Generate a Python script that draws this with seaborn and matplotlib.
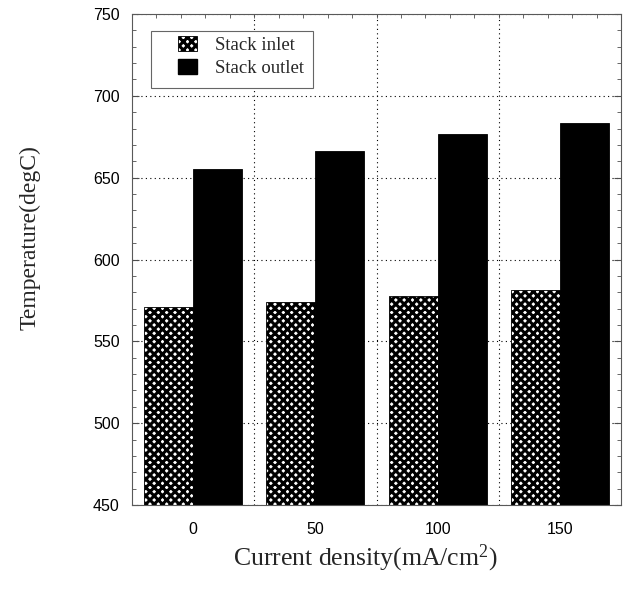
import numpy as np
import pandas as pd
import matplotlib
matplotlib.use("Agg")
import matplotlib.pyplot as plt
from matplotlib.patches import Patch, Rectangle
from matplotlib.ticker import MultipleLocator
import seaborn as sns

densities = ["0", "50", "100", "150"]
inlet_temp = [571, 574, 578, 581.5]
outlet_temp = [655.5, 666.5, 676.5, 683.5]
series = ["Stack inlet", "Stack outlet"]

df = pd.DataFrame({
    "density": densities * 2,
    "temp": inlet_temp + outlet_temp,
    "location": [series[0]] * 4 + [series[1]] * 4,
})

sns.set_style("ticks")
plt.rcParams["hatch.linewidth"] = 2.2
plt.rcParams["hatch.color"] = "black"
plt.rcParams["mathtext.fontset"] = "custom"
plt.rcParams["mathtext.rm"] = "Liberation Serif"
plt.rcParams["mathtext.it"] = "Liberation Serif:italic"

W, H = 627, 591
fig, ax = plt.subplots(figsize=(6.27, 5.91), dpi=100)
L, R, T, B = 132, 621, 14, 505
fig.subplots_adjust(left=L / W, right=R / W, top=1 - T / H, bottom=1 - B / H)

def ax_x(px):
    return (px - L) / (R - L)

def ax_y(py):
    return (B - py) / (B - T)

sns.barplot(data=df, x="density", y="temp", hue="location", order=densities,
            hue_order=series, palette=["white", "black"], edgecolor="black",
            linewidth=0.6, width=0.8, ax=ax, legend=False, zorder=2)

for bar in ax.containers[0]:
    bar.set_hatch("xxxx")

ax.set_ylim(450, 750)
ax.set_xlim(-0.5, 3.5)
ax.yaxis.set_major_locator(MultipleLocator(50))
ax.yaxis.set_minor_locator(MultipleLocator(10))
ax.xaxis.set_minor_locator(MultipleLocator(0.2, offset=-0.5))

ax.yaxis.grid(True, which="major", color="black", linestyle=(0, (1, 3)), linewidth=0.8)
for b in [0.5, 1.5, 2.5]:
    ax.axvline(b, color="black", linestyle=(0, (1, 3)), linewidth=0.8, zorder=0.5)
ax.set_axisbelow(True)

ax.tick_params(axis="both", which="both", direction="in", top=True, right=True, colors="0.3")
ax.tick_params(axis="y", which="major", length=5, pad=9, labelsize=11.5, labelcolor="black")
ax.tick_params(axis="y", which="minor", length=3)
ax.tick_params(axis="x", which="major", length=0, pad=12, labelsize=11.5, labelcolor="black")
ax.tick_params(axis="x", which="minor", length=3, bottom=False)
for lab in ax.get_xticklabels() + ax.get_yticklabels():
    lab.set_fontfamily("Liberation Sans")

for s in ax.spines.values():
    s.set_color("0.35")
    s.set_linewidth(0.8)

ax.set_xlabel("Current density(mA/cm$^2$)", family="Liberation Serif", fontsize=18.5)
ax.xaxis.set_label_coords(ax_x(365), ax_y(543))
ax.set_ylabel("Temperature(degC)", family="Liberation Serif", fontsize=17)
ax.yaxis.set_label_coords(ax_x(41), ax_y(238))

# legend box
ax.add_patch(Rectangle((ax_x(151), ax_y(88)), ax_x(313) - ax_x(151), ax_y(31) - ax_y(88),
                       transform=ax.transAxes, facecolor="white", edgecolor="0.4",
                       linewidth=0.8, zorder=4))
handles = [Patch(facecolor="white", edgecolor="black", hatch="xxxx", linewidth=0.6),
           Patch(facecolor="black", edgecolor="black")]
leg = ax.legend(handles, series, loc="upper left", bbox_to_anchor=(ax_x(178), ax_y(36)),
                prop={"family": "Liberation Serif", "size": 13.5}, frameon=False,
                handlelength=1.0, handleheight=0.85, borderpad=0, labelspacing=0.25,
                handletextpad=0.95, borderaxespad=0)
leg.set_zorder(5)

fig.savefig("out.png", dpi=100)
